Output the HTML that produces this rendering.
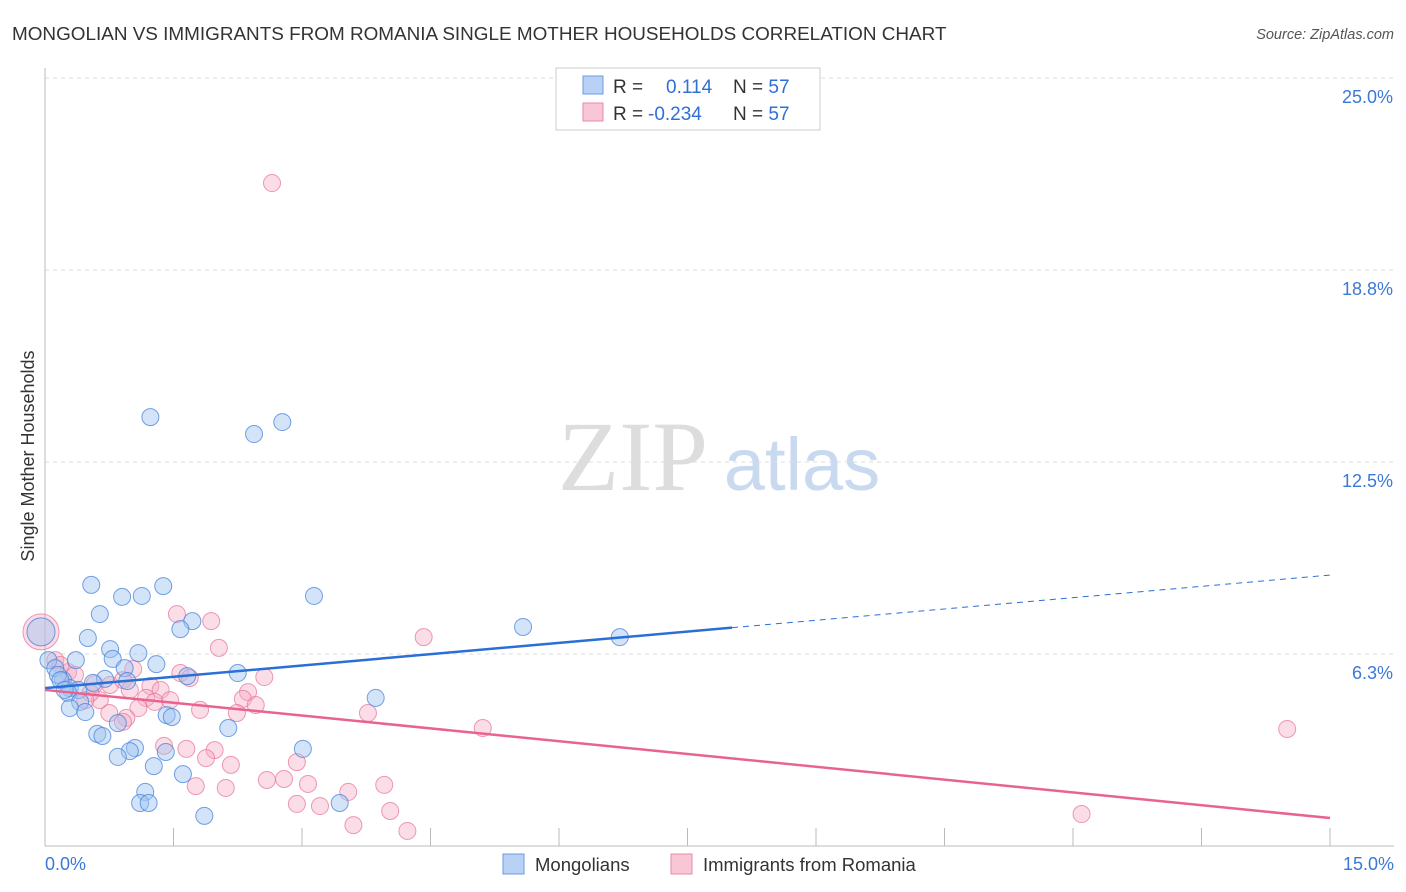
<!DOCTYPE html>
<html><head><meta charset="utf-8"><style>
body{margin:0;background:#fff;font-family:"Liberation Sans",sans-serif;}
svg{display:block}
</style></head><body>
<svg width="1406" height="892" xmlns="http://www.w3.org/2000/svg">
<text x="12" y="40" font-size="18.9" fill="#333">MONGOLIAN VS IMMIGRANTS FROM ROMANIA SINGLE MOTHER HOUSEHOLDS CORRELATION CHART</text>
<text x="1394" y="39" font-size="14.5" fill="#555" font-style="italic" text-anchor="end">Source: ZipAtlas.com</text>
<g>
<text x="633" y="490" font-size="100" font-family="Liberation Serif,serif" fill="#ddd" text-anchor="middle">ZIP</text>
<text x="802" y="490" font-size="74" fill="#c9d9ef" text-anchor="middle">atlas</text>
</g>
<g id="grid"></g>
<g id="axes"></g>
<g id="marks"></g>
<text transform="translate(34,456) rotate(-90)" font-size="18" fill="#333" text-anchor="middle">Single Mother Households</text>
<g>
<rect x="556" y="68" width="264" height="62" fill="#fff" stroke="#ccc"/>
<rect x="583" y="76" width="20" height="18" fill="#b8d1f5" stroke="#6b9be0"/>
<rect x="583" y="103" width="20" height="18" fill="#f9c6d6" stroke="#e98aa8"/>
<text x="613" y="93" font-size="19" fill="#333">R = <tspan x="666" fill="#2f6fd6">0.114</tspan><tspan x="733" fill="#333">N = </tspan><tspan fill="#2f6fd6">57</tspan></text>
<text x="613" y="120" font-size="19" fill="#333">R = <tspan x="648" fill="#2f6fd6">-0.234</tspan><tspan x="733" fill="#333">N = </tspan><tspan fill="#2f6fd6">57</tspan></text>
</g>
<g>
<rect x="503" y="854" width="21" height="20" fill="#b8d1f5" stroke="#6b9be0"/>
<text x="535" y="871" font-size="18.5" fill="#333">Mongolians</text>
<rect x="671" y="854" width="21" height="20" fill="#f9c6d6" stroke="#e98aa8"/>
<text x="703" y="871" font-size="18.5" fill="#333">Immigrants from Romania</text>
</g>
</svg>
<script>
const yTicks=[6.3,12.5,18.8,25.0];
const yTickVals=[6.25,12.5,18.75,25];
const xTickCount=10;
const blueX=[1.23,2.44,2.77,0.54,1.38,0.90,1.13,3.14,0.64,1.72,1.58,5.58,6.71,0.50,0.76,1.09,0.04,0.36,0.79,1.30,0.93,2.25,0.12,0.21,0.70,0.96,0.29,0.39,0.56,0.15,3.86,0.27,1.66,0.41,0.29,0.47,1.42,1.48,0.85,2.14,0.61,0.67,1.05,0.99,3.01,1.41,0.85,1.27,1.61,1.17,1.11,1.21,3.44,1.86,0.0,0.18,0.23];
const blueY=[13.96,13.41,13.80,8.50,8.46,8.11,8.14,8.14,7.55,7.32,7.06,7.13,6.80,6.77,6.41,6.28,6.05,6.05,6.09,5.92,5.79,5.63,5.79,5.40,5.44,5.37,5.14,5.08,5.31,5.57,4.82,4.98,5.53,4.69,4.49,4.36,4.26,4.20,4.00,3.84,3.65,3.58,3.19,3.09,3.16,3.06,2.90,2.60,2.34,1.76,1.40,1.40,1.40,0.98,6.97,5.40,5.08];
const pinkX=[2.65,1.54,4.42,1.94,2.03,0.0,0.12,0.27,1.58,1.69,2.56,2.37,1.03,1.23,1.35,1.18,0.58,0.76,0.91,0.64,2.31,2.46,1.09,1.28,2.24,3.77,0.75,0.95,0.91,5.11,14.50,1.39,1.65,1.98,1.88,2.17,2.94,2.59,2.79,3.07,3.96,3.54,2.11,1.76,2.94,3.21,4.03,3.60,4.23,12.10,0.53,0.18,0.35,0.47,0.99,1.46,1.81];
const pinkY=[21.58,7.55,6.80,7.32,6.45,6.97,6.05,5.66,5.63,5.47,5.50,5.01,5.76,5.21,5.08,4.82,5.27,5.24,5.40,4.75,4.79,4.59,4.49,4.69,4.33,4.33,4.33,4.17,4.04,3.84,3.81,3.26,3.16,3.12,2.86,2.64,2.73,2.15,2.18,2.02,1.99,1.76,1.89,1.95,1.37,1.30,1.14,0.68,0.49,1.04,4.98,5.89,5.57,4.75,5.08,4.75,4.43];
const blueTrend=[5.14,8.82];
const blueSolidEnd=8.02;
const pinkTrend=[5.08,0.91];
const X0=45,X1=1330,Y0=846,PXY=192/6.25;
const sx=v=>X0+(X1-X0)*v/15;
const sy=v=>Y0-v*PXY;
const NS='http://www.w3.org/2000/svg';
function mk(tag,attrs,parent){const e=document.createElementNS(NS,tag);for(const k in attrs)e.setAttribute(k,attrs[k]);parent.appendChild(e);return e;}
const grid=document.getElementById('grid'),axes=document.getElementById('axes'),marks=document.getElementById('marks');
yTickVals.forEach((v,i)=>{
 const l=mk('line',{x1:X0,x2:1394,y1:sy(v),y2:sy(v),stroke:'#ddd','stroke-dasharray':'4,4'},grid);
 
 
 const t=mk('text',{x:1393,y:sy(v)+25,'font-size':18,fill:'#3b78d8','text-anchor':'end'},axes);
 t.textContent=yTicks[i].toFixed(1)+'%';
 
 
});
const ya=mk('line',{x1:X0,x2:X0,y1:68,y2:Y0,stroke:'#bbb'},axes);


const xa=mk('line',{x1:X0,x2:1394,y1:Y0,y2:Y0,stroke:'#bbb'},axes);


for(let i=1;i<=xTickCount;i++){
 const t=mk('line',{x1:sx(i*1.5),x2:sx(i*1.5),y1:828,y2:Y0,stroke:'#bbb'},axes);
 
 
}
const xl0=mk('text',{x:45,y:870,'font-size':18,fill:'#3b78d8'},axes);xl0.textContent='0.0%';


const xl1=mk('text',{x:1394,y:870,'font-size':18,fill:'#3b78d8','text-anchor':'end'},axes);xl1.textContent='15.0%';


function pts(xs,ys,fill,stroke,name,bigR){
 xs.forEach((x,i)=>{
  const r=(x===0)?bigR:8.5;
  const c=mk('circle',{cx:sx(x)+(x===0?-4:0),cy:sy(ys[i]),r:r,fill:fill,stroke:stroke,'stroke-width':1},marks);
  
  
 });
}
pts(pinkX,pinkY,'rgba(246,170,195,0.4)','rgba(232,120,155,0.75)','romania-point',18);
pts(blueX,blueY,'rgba(160,195,240,0.45)','rgba(70,130,220,0.75)','mongolian-point',14);
const by=x=>blueTrend[0]+(blueTrend[1]-blueTrend[0])*x/15;
const py=x=>pinkTrend[0]+(pinkTrend[1]-pinkTrend[0])*x/15;
const b1=mk('line',{x1:sx(0),y1:sy(by(0)),x2:sx(blueSolidEnd),y2:sy(by(blueSolidEnd)),stroke:'#2a6fd6','stroke-width':2.5},marks);


const b2=mk('line',{x1:sx(blueSolidEnd),y1:sy(by(blueSolidEnd)),x2:sx(15),y2:sy(by(15)),stroke:'#2a6fd6','stroke-width':1,'stroke-dasharray':'6,5'},marks);


const p1=mk('line',{x1:sx(0),y1:sy(py(0)),x2:sx(15),y2:sy(py(15)),stroke:'#e8638f','stroke-width':2.5},marks);


</script>
</body></html>
